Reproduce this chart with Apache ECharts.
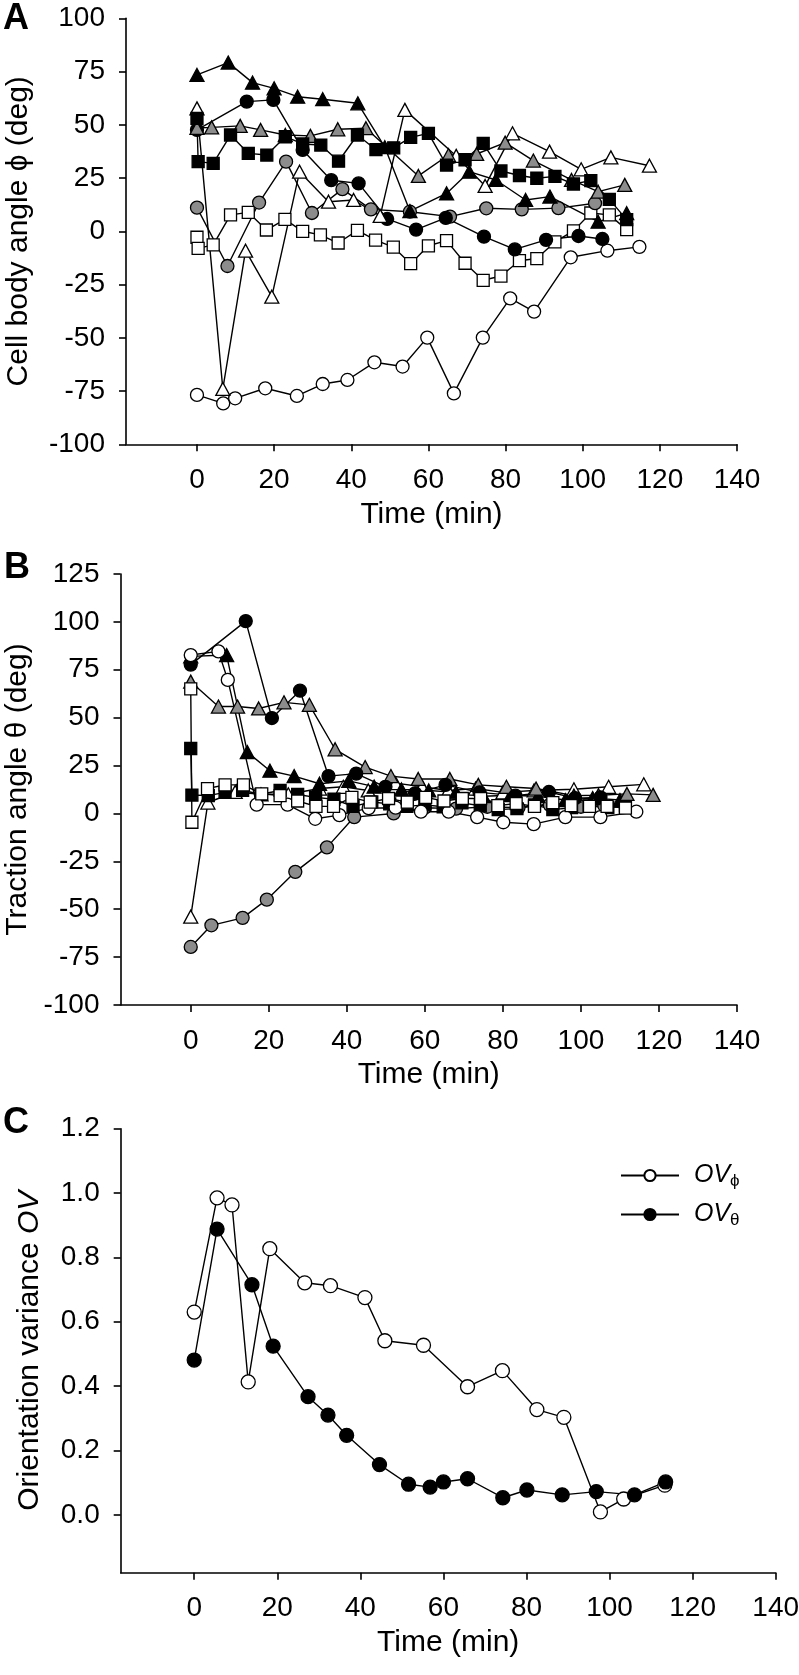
<!DOCTYPE html>
<html><head><meta charset="utf-8">
<script src="https://cdn.jsdelivr.net/npm/echarts@6/dist/echarts.min.js"></script>
<style>html,body{margin:0;padding:0;background:#fff}#c{width:799px;height:1675px}</style>
</head><body><div id="c"></div><script>
// ---------- Panel A: cell body angle phi (deg) vs time (min) ----------
const A_blackTri = [[0,73.4],[8.1,79.2],[14.4,69.8],[20,67.1],[26.1,63.2],[32.6,62],[41.7,60.1],[48.7,39.5],[55.2,9.5],[64.7,17.8],[70.6,28],[77.5,24.1],[85.2,14.7],[91.5,16.3],[104,4.5],[111.4,8.5]];
const A_whiteTri = [[0,57.7],[6.7,-74],[12.6,-9.1],[19.4,-30.7],[26.6,28],[34.1,13.9],[40.6,14.7],[47.5,7.2],[53.9,57],[67.2,35.4],[74.7,21.3],[81.8,46],[91.4,37.4],[99.6,29.1],[107.3,34.7],[117.3,30.8]];
const A_grayTri = [[0,48.5],[3.8,48.8],[11.2,49.5],[16.5,47.6],[22.9,45.2],[29.4,44.8],[36.5,47.9],[43.8,48.4],[57.4,26],[65.2,35.8],[72.5,36.3],[79.9,41.6],[87.2,33.2],[97.1,24.1],[104,18.6],[110.9,21.8]];
const A_blackCirc = [[0,47.6],[12.9,60.9],[19.8,61.7],[27.4,38.2],[34.8,24],[41.9,22.5],[49.3,5.8],[56.8,0.8],[64.5,6.3],[74.4,-2.5],[82.4,-8.5],[90.5,-4],[98.9,-2.2],[105.1,-3.6]];
const A_whiteCirc = [[0,-76.8],[6.8,-80.8],[9.9,-78.4],[17.7,-73.7],[25.9,-77.3],[32.6,-71.7],[39,-69.8],[46,-61.5],[53.3,-63.5],[59.7,-49.9],[66.6,-76.1],[74.1,-49.9],[81.2,-31.5],[87.4,-37.7],[96.9,-12.2],[106.4,-9.1],[114.7,-7.3]];
const A_grayCirc = [[0,11.1],[7.9,-16.3],[16.1,13.5],[23.1,32.7],[29.8,8.6],[37.7,19.8],[45.1,10.3],[55.2,9.2],[65.6,6.9],[75,10.8],[84.2,10.3],[93.7,10.9],[103.2,13.2]];
const A_blackSq = [[0,53],[0.3,32.7],[4.2,31.9],[8.7,45.2],[13.3,36.6],[18.1,35.8],[22.9,44.4],[27.4,41],[32.1,40.5],[36.7,32.9],[41.6,45.2],[46.4,38.3],[51,39.2],[55.4,44.1],[60,46],[64.7,31.1],[69.5,33.6],[74.2,41.3],[78.8,28.3],[83.6,26.2],[88.1,24.9],[92.8,25.8],[97.6,22.2],[102.1,23.8],[106.9,15],[111.4,5.5]];
const A_whiteSq = [[0,-2.8],[0.3,-8],[4.2,-6.4],[8.7,7.7],[13.3,8.9],[18,0.6],[22.8,5.6],[27.4,0],[32,-1.7],[36.6,-5.5],[41.6,0.4],[46.3,-4.1],[50.9,-7.4],[55.4,-15.2],[60,-6.8],[64.7,-4.4],[69.5,-15],[74.2,-23],[78.8,-21],[83.6,-13.8],[88.1,-12.8],[92.8,-5],[97.6,0.2],[102.1,8.6],[106.9,7.7],[111.4,0.8]];

// ---------- Panel B: traction angle theta (deg) vs time (min) ----------
const B_whiteCirc = [[0,82.7],[7.1,84.6],[9.5,69.7],[16.9,4.6],[24.8,4.6],[31.9,-2.8],[38.1,-0.9],[45.6,2.8],[52.5,3],[59,0.9],[66.1,0.9],[73.4,-1.9],[80.1,-4.6],[87.9,-5.6],[96,-1.9],[105,-1.9],[114.2,0.9]];
const B_blackCirc = [[0,77.7],[14.1,100.4],[20.8,49.8],[28,64.1],[35.3,19.5],[42.4,20.8],[49.9,13.9],[57.5,10.5],[65.3,14.9],[74,11],[83.2,9.3],[91.8,11.2],[98.5,8],[105,8.4]];
const B_grayTri = [[0,68.8],[7.1,55.8],[12,55.8],[17.4,54.8],[23.9,58],[30.4,56.7],[37,33.5],[44.7,24.2],[51.3,19.5],[58.3,18],[66.4,18],[73.7,14.9],[80.9,13.9],[88.5,13],[98.2,9.3],[104.5,9.5],[111.8,10.2],[118.5,9.7]];
const B_blackTri = [[0,82],[9.2,82.7],[14.5,32],[20.3,22.3],[26.5,19.5],[33,15.5],[40.5,17],[47,14],[54,12.5],[61,12],[68,11],[75,9],[82,9.5],[89,9],[96,7],[103,8],[110,7]];
const B_whiteTri = [[0,-53.9],[4.4,5.7],[11.4,11.2],[18,10],[25,10],[33,13],[39.1,13.9],[45.5,12],[52.5,15.8],[59.3,13.9],[66,12],[73,13],[80,11],[88,12],[98.2,12.6],[107.1,13.9],[116.1,15.2]];
const B_grayCirc = [[0,-69.7],[5.3,-58.4],[13.3,-54.5],[19.5,-45],[26.8,-30.5],[34.9,-17.7],[41.9,-1.9],[52,0],[60,3],[68,2.5],[76,3.5],[84,3],[92,4.5],[100,3.5],[106,4]];
const B_blackSq = [[0,33.9],[0.3,9.6],[4.5,9.3],[8.8,11],[13.3,12],[18,10],[22.9,12],[27.4,9.9],[32,8.4],[36.7,7.4],[41.6,3.7],[46.4,6],[51,5],[55.4,3.7],[60,4.5],[64.7,3.5],[69.5,5.5],[74.2,4],[78.8,2],[83.6,2.5],[88.1,4.5],[92.8,2],[97.6,3],[102.1,4],[106.9,3],[111.4,4]];
const B_whiteSq = [[0,65],[0.3,-4.6],[4.3,13],[8.8,14.9],[13.5,14.9],[18.2,10.2],[22.9,9.3],[27.4,6.5],[32.1,3.7],[36.6,3.7],[41.3,8.4],[46,5.9],[50.7,7.8],[55.5,5.9],[60.2,8.4],[64.9,6.5],[69.6,7.8],[74.3,7.8],[78.7,4.1],[83.4,5.2],[88.1,3.7],[92.8,5.6],[97.5,4.1],[102.2,3.7],[106.7,3.7],[111.4,2.8]];

// ---------- Panel C: orientation variance OV vs time (min) ----------
const C_phi = [[0,0.63],[5.5,0.985],[9.1,0.963],[13,0.413],[18.2,0.827],[26.6,0.721],[32.8,0.712],[41.1,0.675],[45.9,0.541],[55.2,0.527],[65.8,0.398],[74.2,0.448],[82.5,0.327],[89,0.303],[97.8,0.009],[103.4,0.049],[113.3,0.092]];
const C_theta = [[0,0.481],[5.5,0.888],[13.9,0.715],[19,0.524],[27.4,0.367],[32.2,0.31],[36.7,0.247],[44.6,0.156],[51.6,0.095],[56.8,0.086],[60,0.102],[65.8,0.112],[74.3,0.053],[80.1,0.077],[88.6,0.062],[96.8,0.072],[106,0.062],[113.5,0.102]];

// ---------- tick labels ----------
const X_TICKS = [0,20,40,60,80,100,120,140];
const C_Y_TICKS = [0,0.2,0.4,0.6,0.8,1.0,1.2];

const FF = '"Liberation Sans", Arial, Helvetica, sans-serif';
const GRAY = '#8c8c8c';
const AX = {color:'#000', width:1.6};

function xAxis(gi, min) {
  return {type:'value', gridIndex:gi, min:min, max:140,
    axisLine:{show:true, onZero:false, lineStyle:AX},
    axisTick:{show:true, inside:false, length:7, customValues:X_TICKS, lineStyle:AX},
    axisLabel:{customValues:X_TICKS, margin:22, color:'#000', fontSize:28, fontFamily:FF},
    splitLine:{show:false},
    name:'Time (min)', nameLocation:'middle', nameGap:55,
    nameTextStyle:{color:'#000', fontSize:30, fontFamily:FF}};
}
function yAxis(gi, cfg, name, gap) {
  return Object.assign({type:'value', gridIndex:gi,
    axisLine:{show:true, onZero:false, lineStyle:AX},
    axisTick:{show:true, inside:false, length:7, lineStyle:AX},
    splitLine:{show:false},
    name:name, nameLocation:'middle', nameRotate:90, nameGap:gap,
    nameTextStyle:{color:'#000', fontSize:30, fontFamily:FF,
      rich:{n:{fontSize:30, fontFamily:FF, color:'#000'}, i:{fontSize:30, fontFamily:FF, fontStyle:'italic', color:'#000'}}}}, cfg);
}
const SYM = {circle:13, rect:12, triangle:[14,13]};
function s(gi, data, symbol, fill, name) {
  return {type:'line', name:name || ('s'+gi+symbol+fill), xAxisIndex:gi, yAxisIndex:gi, data:data,
    symbol:symbol, symbolSize:SYM[symbol], showSymbol:true, showAllSymbol:true, clip:false,
    lineStyle:{color:'#000', width:1.4},
    itemStyle:{color:fill, borderColor:'#000', borderWidth:1.3},
    emphasis:{disabled:true}, silent:true};
}

const yLab = {margin:21, color:'#000', fontSize:28, fontFamily:FF};
const LET = {fontSize:36, fontWeight:'bold', color:'#000', fontFamily:FF};
const option = {
  animation:false,
  backgroundColor:'#fff',
  title:[
    {text:'A', left:3, top:1, padding:0, textStyle:LET},
    {text:'B', left:4, top:550, padding:0, textStyle:LET},
    {text:'C', left:3, top:1105, padding:0, textStyle:LET}
  ],
  grid:[
    {left:126, top:18.3, width:611, height:426, containLabel:false, outerBoundsMode:'none'},
    {left:120.5, top:574, width:616.5, height:431, containLabel:false, outerBoundsMode:'none'},
    {left:120.7, top:1128.7, width:655, height:444, containLabel:false, outerBoundsMode:'none'}
  ],
  xAxis:[xAxis(0,-18.4), xAxis(1,-18), xAxis(2,-17.7)],
  yAxis:[
    yAxis(0, {min:-100, max:100, interval:25, axisLabel:yLab}, 'Cell body angle \u03D5 (deg)', 92),
    yAxis(1, {min:-100, max:125, interval:25, axisLabel:yLab}, 'Traction angle \u03B8 (deg)', 88),
    yAxis(2, {min:-0.18, max:1.2,
      axisTick:{show:true, inside:false, length:7, customValues:C_Y_TICKS, lineStyle:AX},
      axisLabel:Object.assign({customValues:C_Y_TICKS, formatter:v=>v.toFixed(1)}, yLab)},
      '{n|Orientation variance }{i|OV}', 76)
  ],
  legend:{show:true, orient:'vertical', left:615, top:1158, itemWidth:58, itemHeight:14, itemGap:12,
    data:['phi','theta'], selectedMode:false,
    formatter:n => n==='phi' ? '{i|OV}{s|\u03D5}' : '{i|OV}{s|\u03B8}',
    textStyle:{color:'#000', padding:[0,0,0,10],
      rich:{i:{fontSize:25, fontStyle:'italic', fontFamily:FF, color:'#000'},
            s:{fontSize:17, fontFamily:FF, color:'#000', padding:[12,0,0,0]}}}},
  series:[
    s(0,A_whiteCirc,'circle','#fff'),
    s(0,A_whiteSq,'rect','#fff'),
    s(0,A_grayCirc,'circle',GRAY),
    s(0,A_blackCirc,'circle','#000'),
    s(0,A_whiteTri,'triangle','#fff'),
    s(0,A_grayTri,'triangle',GRAY),
    s(0,A_blackSq,'rect','#000'),
    s(0,A_blackTri,'triangle','#000'),

    s(1,B_grayCirc,'circle',GRAY),
    s(1,B_whiteTri,'triangle','#fff'),
    s(1,B_blackSq,'rect','#000'),
    s(1,B_blackTri,'triangle','#000'),
    s(1,B_grayTri,'triangle',GRAY),
    s(1,B_blackCirc,'circle','#000'),
    s(1,B_whiteCirc,'circle','#fff'),
    s(1,B_whiteSq,'rect','#fff'),

    Object.assign(s(2,C_phi,'circle','#fff','phi'), {symbolSize:14}),
    Object.assign(s(2,C_theta,'circle','#000','theta'), {symbolSize:14})
  ]
};
const chart = echarts.init(document.getElementById('c'), null, {renderer:'canvas'});
chart.setOption(option);
</script></body></html>
